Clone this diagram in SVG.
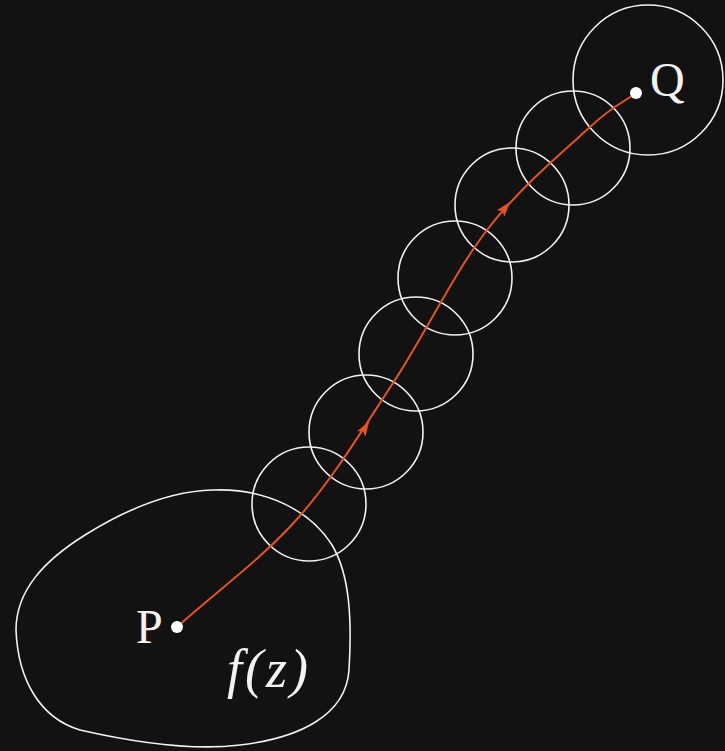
<svg xmlns="http://www.w3.org/2000/svg" width="725" height="751" viewBox="0 0 725 751">
<style>
.c{fill:none;stroke:#f2f2f2;stroke-width:1.6}
.path{fill:none;stroke:#e8531d;stroke-width:2}
.arr{fill:#e8531d}
.t{fill:#f2f2f2;font-family:"Liberation Serif","DejaVu Serif",serif;font-size:48px}
.it{font-style:italic;font-size:54px;letter-spacing:3px}
.dot{fill:#ffffff}
</style>
<rect width="725" height="751" fill="#121212"/>
<g id="region">
<path class="c" d="M213,490 C265,488 310,510 332,545 C350,575 352,620 349,670 C346,715 300,738 240,745 C200,750 150,746 80,730 C40,718 18,680 16,630 C16,590 45,560 85,535 C125,510 170,491 213,490 Z"/>
<text class="t it" x="227" y="687">f(z)</text>
</g>
<g id="disks">
<circle class="c" cx="309" cy="504" r="57"/>
<circle class="c" cx="366" cy="432" r="57"/>
<circle class="c" cx="416" cy="354" r="57"/>
<circle class="c" cx="455" cy="278" r="57"/>
<circle class="c" cx="512" cy="205" r="57"/>
<circle class="c" cx="573" cy="148" r="57"/>
<circle class="c" cx="648" cy="80" r="75"/>
</g>
<g id="connectors">
<path class="path" d="M177,627 C217.3,590.7 262,558.7 298,518 C334,477.3 361.5,431 393,383 C424.5,335 454.2,272.7 487,230 C519.8,187.3 565.2,149.8 590,127 C614.8,104.2 620.7,104.3 636,93"/>
<polygon class="arr" points="8,0 -7,-5 -4,0 -7,5" transform="translate(365,428) rotate(-57)"/>
<polygon class="arr" points="8,0 -7,-5 -4,0 -7,5" transform="translate(505,208) rotate(-50)"/>
</g>
<g id="P">
<circle class="dot" cx="177" cy="627" r="6"/>
<text class="t" x="136" y="643">P</text>
</g>
<g id="Q">
<circle class="dot" cx="636" cy="93" r="6"/>
<text class="t" x="650" y="96">Q</text>
</g>
</svg>
